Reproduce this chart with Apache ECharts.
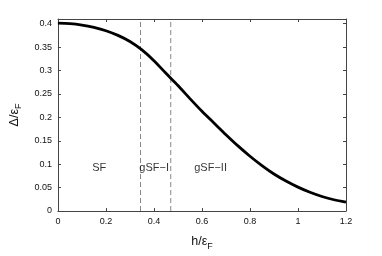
<!DOCTYPE html>
<html>
<head>
<meta charset="utf-8">
<script src="https://cdn.jsdelivr.net/npm/echarts@6/dist/echarts.min.js"></script>
<style>html,body{margin:0;padding:0;background:#fff}#c{width:382px;height:256px}</style>
</head>
<body>
<div id="c"></div>
<script>
const hValues = [0,0.05,0.1,0.15,0.2,0.25,0.3,0.35,0.4,0.45,0.5,0.55,0.6,0.65,0.7,0.75,0.8,0.85,0.9,0.95,1.0,1.05,1.1,1.15,1.2];
const gapValues = [0.401,0.400,0.397,0.392,0.385,0.375,0.362,0.344,0.321,0.294,0.268,0.240,0.213,0.188,0.163,0.139,0.117,0.097,0.079,0.064,0.051,0.040,0.031,0.024,0.019];
const boundaries = [0.344, 0.47];
const regionNames = ['SF', 'gSF\u2212I', 'gSF\u2212II'];
const regionX = [0.172, 0.401, 0.636];
const regionY = [0.092, 0.092, 0.092];
const xTicks = [0, 0.2, 0.4, 0.6, 0.8, 1, 1.2];
const yTicks = [0, 0.05, 0.1, 0.15, 0.2, 0.25, 0.3, 0.35, 0.4];

const FONT = 'Liberation Sans, Arial, Helvetica, sans-serif';
const axisColor = '#444';
const chart = echarts.init(document.getElementById('c'));

const series = [{
  type: 'line',
  data: hValues.map((h, i) => [h, gapValues[i]]),
  smooth: 0.3,
  symbol: 'none',
  lineStyle: { color: '#000', width: 2.8 },
  z: 5
}];
boundaries.forEach(b => {
  series.push({
    type: 'line',
    data: [[b, 0], [b, 0.41]],
    symbol: 'none',
    lineStyle: { color: '#888', width: 1, type: [5, 3] },
    z: 3
  });
});
series.push({
  type: 'scatter',
  symbolSize: 0,
  data: regionNames.map((n, i) => ({ name: n, value: [regionX[i], regionY[i]] })),
  label: {
    show: true,
    position: 'inside',
    formatter: p => p.name,
    fontFamily: FONT,
    fontSize: 11,
    color: '#000',
    textBorderWidth: 0
  },
  z: 6
});

function tickAxis(extra) {
  return Object.assign({
    type: 'value',
    axisLine: { show: true, onZero: false, lineStyle: { color: axisColor, width: 1 } },
    splitLine: { show: false }
  }, extra);
}

chart.setOption({
  animation: false,
  backgroundColor: '#fff',
  grid: { left: 53, right: 36, top: 19, bottom: 40, containLabel: false },
  xAxis: [tickAxis({
    min: 0, max: 1.2, position: 'bottom',
    axisTick: { show: true, inside: true, length: 3, customValues: xTicks, lineStyle: { color: axisColor } },
    axisLabel: { fontFamily: FONT, fontSize: 9, color: '#111', margin: 6, customValues: xTicks, formatter: v => String(v) },
    name: '{m|h/\u03b5}{s|F}', nameLocation: 'middle', nameGap: 22,
    nameTextStyle: { rich: {
      m: { fontFamily: FONT, fontSize: 12.5, color: '#111' },
      s: { fontFamily: FONT, fontSize: 9, color: '#111', padding: [9, 0, 0, 0] }
    } }
  }), tickAxis({
    min: 0, max: 1.2, position: 'top',
    axisTick: { show: true, inside: true, length: 3, customValues: xTicks, lineStyle: { color: axisColor } },
    axisLabel: { show: false }
  })],
  yAxis: [tickAxis({
    min: 0, max: 0.41, position: 'left',
    axisTick: { show: true, inside: true, length: 3, customValues: yTicks, lineStyle: { color: axisColor } },
    axisLabel: { fontFamily: FONT, fontSize: 9, color: '#111', margin: 6, customValues: yTicks, formatter: v => String(v) },
    name: '{m|\u0394/\u03b5}{s|F}', nameLocation: 'middle', nameGap: 30,
    nameTextStyle: { rich: {
      m: { fontFamily: FONT, fontSize: 12.5, color: '#111' },
      s: { fontFamily: FONT, fontSize: 9, color: '#111', padding: [9, 0, 0, 0] }
    } }
  }), tickAxis({
    min: 0, max: 0.41, position: 'right',
    axisTick: { show: true, inside: true, length: 3, customValues: yTicks, lineStyle: { color: axisColor } },
    axisLabel: { show: false }
  })],
  series: series
});
</script>
</body>
</html>
